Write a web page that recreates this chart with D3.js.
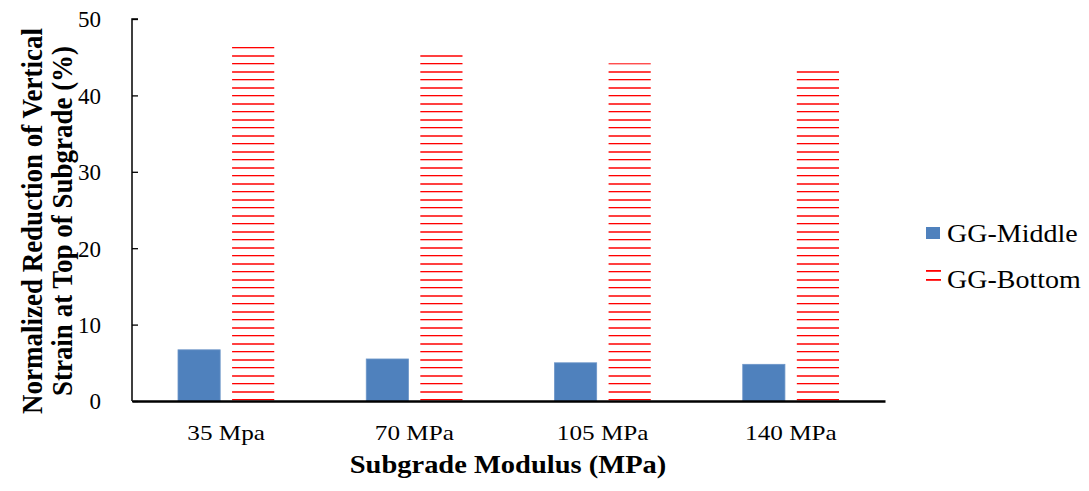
<!DOCTYPE html>
<html>
<head>
<meta charset="utf-8">
<script src="https://cdn.jsdelivr.net/npm/d3@7"></script>
<style>
  html, body { margin: 0; padding: 0; background: #fff; }
  svg text { font-family: "Liberation Serif", "Times New Roman", serif; }
</style>
</head>
<body>
<svg id="chart" width="1089" height="491" font-family="Liberation Serif"></svg>
<script>
// Subgrade modulus categories and the two geogrid placements
const categories = ["35 Mpa", "70 MPa", "105 MPa", "140 MPa"];
const seriesNames = ["GG-Middle", "GG-Bottom"];
const ggMiddle = [6.7, 5.5, 5.0, 4.8];
const ggBottom = [46.5, 45.3, 44.2, 43.2];
const yTicks = [0, 10, 20, 30, 40, 50];

const FONT = "Liberation Serif";
const svg = d3.select("#chart");
const plot = { left: 132, right: 885, top: 19, bottom: 401 };

const x = d3.scaleBand().domain(categories).range([plot.left, plot.right]).paddingInner(0).paddingOuter(0);
const inner = d3.scaleBand().domain(seriesNames).range([46, x.bandwidth() - 46]).paddingInner(0.22);
const y = d3.scaleLinear().domain([0, 50]).range([plot.bottom, plot.top]);

// Horizontal-line hatch for the GG-Bottom bars
const defs = svg.append("defs");
const pat = defs.append("pattern")
  .attr("id", "hlines")
  .attr("patternUnits", "userSpaceOnUse")
  .attr("x", 0).attr("y", 7)
  .attr("width", 8).attr("height", 16);
pat.append("rect").attr("x", 0).attr("y", 0).attr("width", 8).attr("height", 2)
  .attr("fill", "#ff0000").attr("opacity", 0.75);
pat.append("rect").attr("x", 0).attr("y", 8).attr("width", 8).attr("height", 1.3)
  .attr("fill", "#ff0000");

const rows = categories.map((c, i) => ({ cat: c, values: [ggMiddle[i], ggBottom[i]] }));

const groups = svg.append("g").selectAll("g")
  .data(rows).join("g")
  .attr("transform", d => `translate(${x(d.cat)},0)`);

groups.selectAll("rect")
  .data(d => d.values.map((v, k) => ({ key: seriesNames[k], v })))
  .join("rect")
  .attr("x", d => inner(d.key))
  .attr("width", inner.bandwidth())
  .attr("y", d => y(d.v))
  .attr("height", d => y(0) - y(d.v))
  .attr("fill", d => d.key === "GG-Middle" ? "#4f81bd" : "url(#hlines)")
  .attr("stroke", d => d.key === "GG-Middle" ? "#6c95c8" : "none")
  .attr("stroke-width", 0.8);

// Y axis with inward ticks
const yAxis = d3.axisRight(y).tickValues(yTicks).tickSize(6).tickFormat(d3.format("d"));
const gy = svg.append("g").attr("transform", `translate(${plot.left},0)`).call(yAxis)
  .attr("font-family", FONT);
gy.select(".domain").attr("stroke", "#000").attr("stroke-width", 1.5).attr("d", `M6,${plot.top}H0V${plot.bottom}`);
gy.selectAll(".tick line").attr("stroke", "#000").attr("stroke-width", 1.3);
gy.selectAll(".tick text")
  .attr("x", -31).attr("dy", "0.34em")
  .attr("text-anchor", "end")
  .attr("font-size", 23)
  .attr("font-family", FONT)
  .attr("fill", "#000");

// X axis (category labels are drawn slightly widened)
const xAxis = d3.axisBottom(x).tickSize(0).tickPadding(0);
const gx = svg.append("g").attr("transform", `translate(0,${plot.bottom})`).call(xAxis)
  .attr("font-family", FONT);
gx.select(".domain").attr("stroke", "#000").attr("stroke-width", 2.5);
gx.selectAll(".tick text")
  .attr("y", 0).attr("dy", 0)
  .attr("transform", "translate(0,39) scale(1.2,1)")
  .attr("font-size", 21)
  .attr("font-family", FONT)
  .attr("fill", "#000");

// Axis titles
svg.append("text")
  .attr("transform", "translate(508,473) scale(1.14,1)")
  .attr("text-anchor", "middle")
  .attr("font-family", FONT)
  .attr("font-weight", "bold").attr("font-size", 25)
  .text("Subgrade Modulus (MPa)");

const yt = svg.append("text")
  .attr("transform", "translate(0,221) rotate(-90) scale(1,1.12)")
  .attr("text-anchor", "middle")
  .attr("font-family", FONT)
  .attr("font-weight", "bold").attr("font-size", 27);
yt.append("tspan").attr("x", 0).attr("y", 37.5).text("Normalized Reduction of Vertical");
yt.append("tspan").attr("x", 0).attr("y", 64).text("Strain at Top of Subgrade (%)");

// Legend
const legend = svg.append("g").attr("font-family", FONT);
legend.append("rect").attr("x", 926).attr("y", 227).attr("width", 14).attr("height", 12).attr("fill", "#4f81bd");
legend.append("text").attr("transform", "translate(947,242) scale(1.12,1)")
  .attr("font-size", 25).attr("font-family", FONT).text(seriesNames[0]);
legend.append("rect").attr("x", 926).attr("y", 270).attr("width", 15).attr("height", 1.8).attr("fill", "#ff0000");
legend.append("rect").attr("x", 926).attr("y", 279).attr("width", 15).attr("height", 1.8).attr("fill", "#ff0000");
legend.append("text").attr("transform", "translate(947,288) scale(1.12,1)")
  .attr("font-size", 25).attr("font-family", FONT).text(seriesNames[1]);
</script>
</body>
</html>
